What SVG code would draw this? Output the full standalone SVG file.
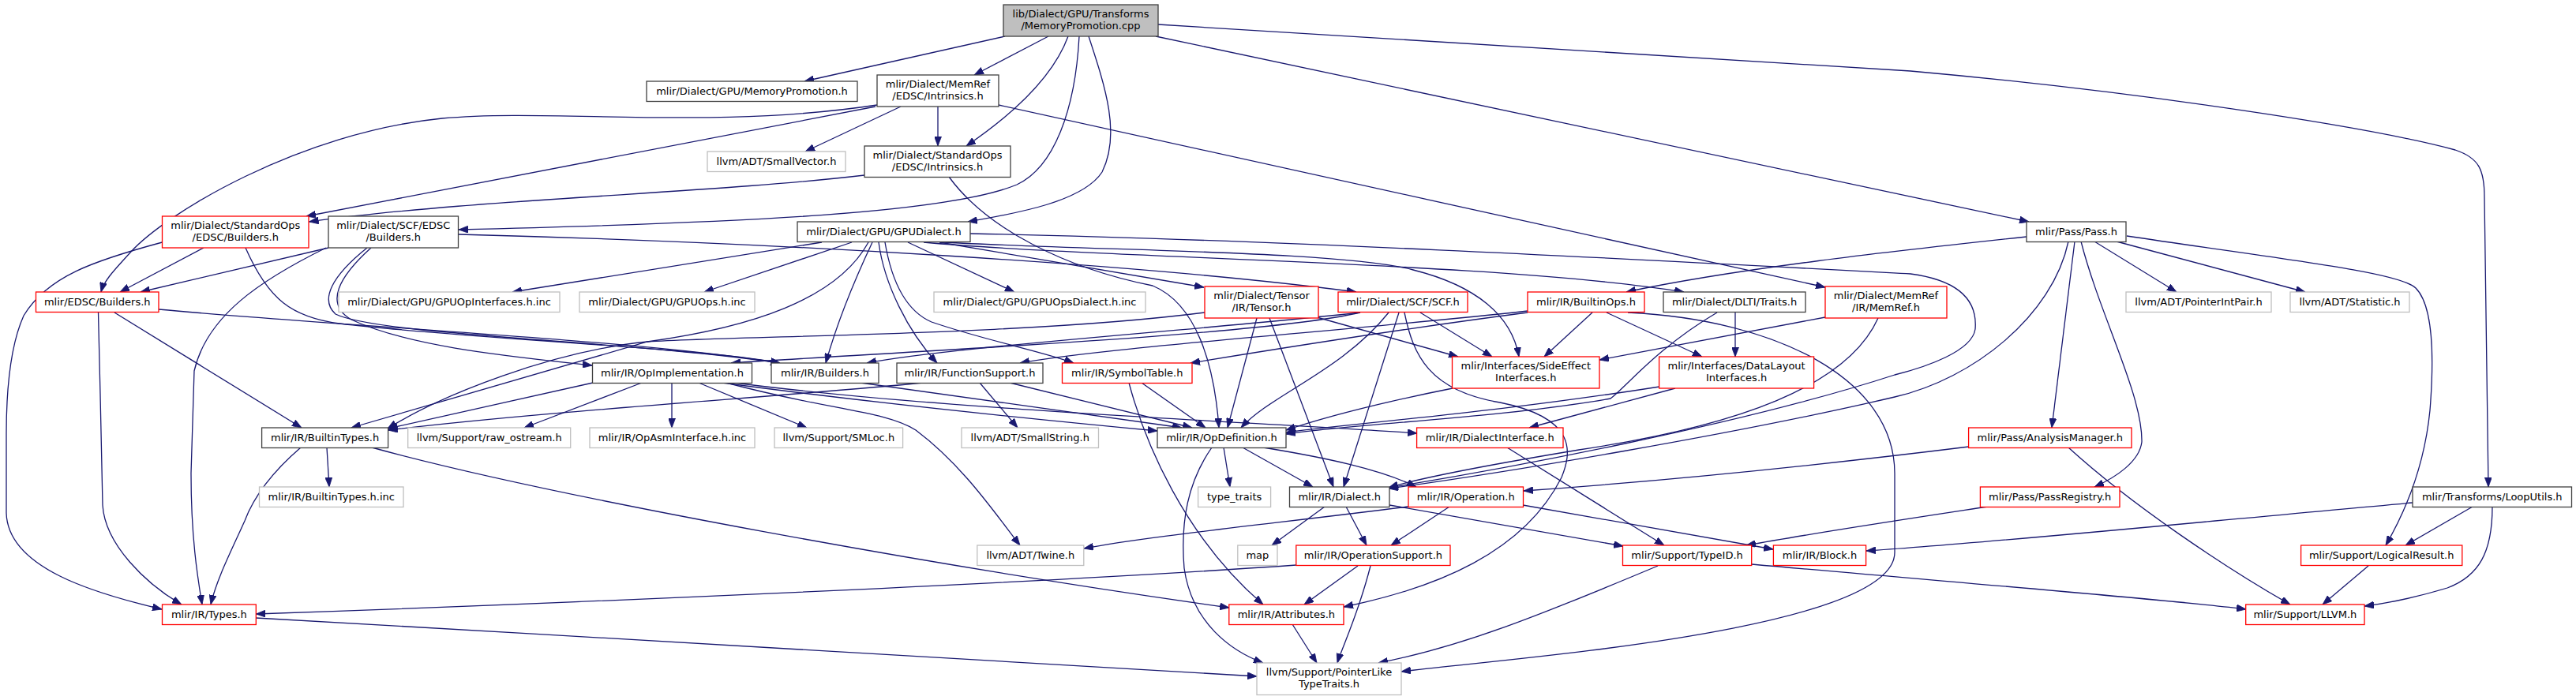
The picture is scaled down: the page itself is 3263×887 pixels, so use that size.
<svg xmlns="http://www.w3.org/2000/svg" width="3263" height="887" viewBox="0 0 3263 887">
<style>
.n rect{fill:#ffffff;stroke-width:1.3}
.k rect{stroke:#404040}
.r rect{stroke:#ff0000}
.g rect{stroke:#bfbfbf}
.m rect{fill:#bfbfbf;stroke:#404040}
text{font-family:"DejaVu Sans","Liberation Sans",sans-serif;font-size:13px;text-anchor:middle;fill:#000000}
#edges path{fill:none;stroke:#191970;stroke-width:1.3;marker-end:url(#a)}
</style>
<defs>
<marker id="a" viewBox="0 0 12 9" markerWidth="12" markerHeight="9" refX="12" refY="4.5" orient="auto" markerUnits="userSpaceOnUse"><path d="M0,0L12,4.5L0,9z" fill="#191970" stroke="#191970" stroke-width="0.8"/></marker>
</defs>
<rect x="0" y="0" width="3263" height="887" fill="#ffffff"/>
<g id="edges">
<path d="M1273,46 L1019,103"/>
<path d="M1328,46 L1234,95"/>
<path d="M1353,46 C1335,95 1290,140 1224,185"/>
<path d="M1367,46 C1362,140 1335,212 1288,234 C1200,270 950,282 581,291"/>
<path d="M1379,46 C1400,110 1420,170 1396,218 C1372,255 1290,270 1226,281"/>
<path d="M1464,46 L2570,281"/>
<path d="M1467,31 L2420,90 C2700,115 3000,160 3110,190 C3140,200 3147,215 3147,250 L3152,617"/>
<path d="M1111,133 C900,165 700,137 560,150 C380,168 210,270 165,320 C145,342 132,355 128,370"/>
<path d="M1109,135 L388,274"/>
<path d="M1141,135 L1020,192"/>
<path d="M1188,135 L1188,185"/>
<path d="M1265,133 L2312,364"/>
<path d="M1095,222 C900,245 600,252 391.5,281"/>
<path d="M1202,224 C1250,290 1350,340 1460,362 C1515,385 1538,460 1544,542"/>
<path d="M258,314 L152,370"/>
<path d="M205.5,307 C120,330 60,350 30,400 C12,440 8,500 8,550 L8,650 C10,720 120,752 205,772"/>
<path d="M311,314 C340,380 370,402 430,410 C600,430 880,440 988,460"/>
<path d="M416,314 L178,370"/>
<path d="M413,314 C330,355 262,400 246,470 L242,600 C242,680 250,730 256,766"/>
<path d="M465,314 C420,350 405,380 425,398 C480,425 800,432 988,460"/>
<path d="M470,314 C430,350 410,385 445,405 C520,440 650,452 750,463"/>
<path d="M581,297 C1000,308 1450,335 1718,370"/>
<path d="M1041,307 L649,370"/>
<path d="M1079,307 L892,370"/>
<path d="M1150,307 L1285,370"/>
<path d="M1190,307 L1525,364"/>
<path d="M1100,307 C1060,380 950,415 820,433 L445,542"/>
<path d="M1105,307 C1080,360 1060,410 1046,460"/>
<path d="M1113,307 C1120,360 1150,420 1187,460"/>
<path d="M1121,307 C1130,360 1150,395 1180,408 C1250,432 1320,445 1360,460"/>
<path d="M1195,307 C1400,318 1700,318 1790,342 C1870,362 1915,400 1924,452"/>
<path d="M1170,307 C1400,328 1900,332 2133,370"/>
<path d="M1229,296 C1600,303 2100,330 2420,347 C2480,355 2505,380 2502,417 C2498,445 2440,465 2400,475 C2200,540 1900,595 1759,618"/>
<path d="M2567,300 C2400,318 2200,340 2060,370"/>
<path d="M2653,306 L2757,370"/>
<path d="M2681,306 L2920,370"/>
<path d="M2628,306 L2599,542"/>
<path d="M2636,306 C2660,400 2714,500 2713,560 C2710,585 2680,605 2653,617"/>
<path d="M2694,299 C2900,330 3040,345 3060,365 C3085,390 3082,470 3078,520 C3070,600 3040,660 3022,691"/>
<path d="M2620,306 C2600,400 2500,480 2400,503 C2200,550 1900,600 1759,619"/>
<path d="M124.5,396 L127,500 L130,640 C133,690 185,740 230,766"/>
<path d="M145,396 L382,542"/>
<path d="M201,392 C450,415 800,430 988,460"/>
<path d="M1526,396 C1300,425 950,425 820,433 C700,445 560,500 491,543"/>
<path d="M1592,403 L1555,542"/>
<path d="M1608,403 L1689,617"/>
<path d="M1668,402 L1847,452"/>
<path d="M1723,396 C1500,420 1200,440 1098,460"/>
<path d="M1723,396 C1600,425 1150,445 926,460"/>
<path d="M1799,396 L1890,452"/>
<path d="M1772,396 L1702,617"/>
<path d="M1759,396 C1700,470 1610,500 1572,542"/>
<path d="M1779,396 C1790,450 1810,495 1900,510 C2000,530 1990,575 1978,605 C1930,700 1820,745 1702,769"/>
<path d="M2017,396 L1956,452"/>
<path d="M2035,396 L2156,452"/>
<path d="M1935,394 C1700,420 1400,440 1292,460"/>
<path d="M1935,396 C1750,420 1600,445 1508,460"/>
<path d="M2062,396 C2250,405 2400,480 2400,600 L2400,700 C2400,800 1900,835 1775,851"/>
<path d="M2198,396 L2198,452"/>
<path d="M2175,396 C2100,440 2060,490 2040,505 C1900,530 1700,538 1629,550"/>
<path d="M2312,402 L2026,456"/>
<path d="M2379,403 C2340,490 2200,540 2000,570 C1880,590 1800,605 1759,618"/>
<path d="M751,485 L491.6,543"/>
<path d="M813,485 L664,542"/>
<path d="M851,485 L851,542"/>
<path d="M885,485 L1022,542"/>
<path d="M915,485 C1100,510 1350,535 1466,546"/>
<path d="M930,485 C1200,520 1600,535 1795,549"/>
<path d="M920,485 C1050,520 1120,520 1160,545 C1220,590 1260,650 1292,691"/>
<path d="M1090,485 L1497,542"/>
<path d="M1279,485 L1510,542"/>
<path d="M1241,485 L1289,542"/>
<path d="M1169,485 C1000,502 700,520 491.6,545"/>
<path d="M1446,485 L1527,542"/>
<path d="M1430,485 C1450,560 1500,680 1600,766"/>
<path d="M1840,492 C1750,510 1680,528 1629,545"/>
<path d="M2102,490 C1900,522 1700,538 1629,548"/>
<path d="M2122,492 L1937,542"/>
<path d="M414,567 L417,617"/>
<path d="M381,567 C345,598 322,628 310,660 C292,700 274,735 267,766"/>
<path d="M471,567 C700,630 1200,720 1557,770"/>
<path d="M1550,567 L1558,617"/>
<path d="M1574,567 L1663,617"/>
<path d="M1600,567 C1680,580 1750,595 1794,617"/>
<path d="M1535,567 C1505,610 1495,660 1500,720 C1510,790 1560,825 1600,840"/>
<path d="M1909,567 L2108,691"/>
<path d="M2494,566 C2300,590 2100,610 1930,622"/>
<path d="M2620,567 C2700,640 2820,720 2901,766"/>
<path d="M1678,642 L1611,691"/>
<path d="M1705,642 L1731,691"/>
<path d="M1760,640 L2056,692"/>
<path d="M1836,642 L1762,691"/>
<path d="M1929,640 L2246,696"/>
<path d="M1784,642 C1600,665 1450,680 1373,695"/>
<path d="M2518,642 C2400,660 2300,675 2212,691"/>
<path d="M3056,637 C2800,660 2500,690 2364,698"/>
<path d="M3132,642 L3047,691"/>
<path d="M3157,642 C3157,700 3140,730 3100,745 C3050,760 3020,765 2995,768"/>
<path d="M1642,716 C1300,740 700,765 324.3,778"/>
<path d="M1720,717 L1652,766"/>
<path d="M1736,717 C1720,780 1700,820 1694,840"/>
<path d="M2219,715 C2500,740 2750,760 2845,772"/>
<path d="M2100,717 C1950,780 1850,820 1746,840"/>
<path d="M3000,717 L2942,766"/>
<path d="M324,783 C800,810 1400,845 1592,857"/>
<path d="M1637,791 L1668,840"/>
</g>
<g id="n0" class="n m"><rect x="1271" y="6" width="196" height="40"/><text x="1369" y="21.7">lib/Dialect/GPU/Transforms</text><text x="1369" y="36.7">/MemoryPromotion.cpp</text></g>
<g id="n1" class="n k"><rect x="819" y="103" width="267" height="25.5"/><text x="952.5" y="120">mlir/Dialect/GPU/MemoryPromotion.h</text></g>
<g id="n2" class="n k"><rect x="1111" y="95" width="154" height="40"/><text x="1188" y="110.7">mlir/Dialect/MemRef</text><text x="1188" y="125.7">/EDSC/Intrinsics.h</text></g>
<g id="n3" class="n g"><rect x="896" y="192" width="175" height="25.5"/><text x="983.5" y="209">llvm/ADT/SmallVector.h</text></g>
<g id="n4" class="n k"><rect x="1095" y="185" width="185" height="39.5"/><text x="1187.5" y="200.7">mlir/Dialect/StandardOps</text><text x="1187.5" y="215.7">/EDSC/Intrinsics.h</text></g>
<g id="n5" class="n r"><rect x="205.5" y="274" width="185.5" height="40"/><text x="298.25" y="289.7">mlir/Dialect/StandardOps</text><text x="298.25" y="304.7">/EDSC/Builders.h</text></g>
<g id="n6" class="n k"><rect x="416" y="274" width="164.5" height="40"/><text x="498.25" y="289.7">mlir/Dialect/SCF/EDSC</text><text x="498.25" y="304.7">/Builders.h</text></g>
<g id="n7" class="n k"><rect x="1010" y="281" width="219" height="25.5"/><text x="1119.5" y="298">mlir/Dialect/GPU/GPUDialect.h</text></g>
<g id="n8" class="n k"><rect x="2567" y="281" width="126" height="25.5"/><text x="2630" y="298">mlir/Pass/Pass.h</text></g>
<g id="n9" class="n r"><rect x="45.5" y="370" width="155.5" height="25.5"/><text x="123.25" y="387">mlir/EDSC/Builders.h</text></g>
<g id="n10" class="n g"><rect x="429" y="370" width="280" height="25.5"/><text x="569" y="387">mlir/Dialect/GPU/GPUOpInterfaces.h.inc</text></g>
<g id="n11" class="n g"><rect x="734" y="370" width="222" height="25.5"/><text x="845" y="387">mlir/Dialect/GPU/GPUOps.h.inc</text></g>
<g id="n12" class="n g"><rect x="1183" y="370" width="268" height="25.5"/><text x="1317" y="387">mlir/Dialect/GPU/GPUOpsDialect.h.inc</text></g>
<g id="n13" class="n r"><rect x="1526" y="363" width="144" height="40"/><text x="1598" y="378.7">mlir/Dialect/Tensor</text><text x="1598" y="393.7">/IR/Tensor.h</text></g>
<g id="n14" class="n r"><rect x="1695" y="370" width="164" height="25.5"/><text x="1777" y="387">mlir/Dialect/SCF/SCF.h</text></g>
<g id="n15" class="n r"><rect x="1935" y="370" width="148" height="25.5"/><text x="2009" y="387">mlir/IR/BuiltinOps.h</text></g>
<g id="n16" class="n k"><rect x="2107" y="370" width="180" height="25.5"/><text x="2197" y="387">mlir/Dialect/DLTI/Traits.h</text></g>
<g id="n17" class="n r"><rect x="2312" y="363" width="154" height="40"/><text x="2389" y="378.7">mlir/Dialect/MemRef</text><text x="2389" y="393.7">/IR/MemRef.h</text></g>
<g id="n18" class="n g"><rect x="2693" y="370" width="184" height="25.5"/><text x="2785" y="387">llvm/ADT/PointerIntPair.h</text></g>
<g id="n19" class="n g"><rect x="2901" y="370" width="151" height="25.5"/><text x="2976.5" y="387">llvm/ADT/Statistic.h</text></g>
<g id="n20" class="n k"><rect x="750.5" y="460" width="202" height="25.5"/><text x="851.5" y="477">mlir/IR/OpImplementation.h</text></g>
<g id="n21" class="n k"><rect x="977" y="460" width="136" height="25.5"/><text x="1045" y="477">mlir/IR/Builders.h</text></g>
<g id="n22" class="n k"><rect x="1136" y="460" width="185" height="25.5"/><text x="1228.5" y="477">mlir/IR/FunctionSupport.h</text></g>
<g id="n23" class="n r"><rect x="1345.5" y="460" width="164.5" height="25.5"/><text x="1427.75" y="477">mlir/IR/SymbolTable.h</text></g>
<g id="n24" class="n r"><rect x="1839.5" y="452" width="186.5" height="40"/><text x="1932.75" y="467.7">mlir/Interfaces/SideEffect</text><text x="1932.75" y="482.7">Interfaces.h</text></g>
<g id="n25" class="n r"><rect x="2101.6" y="452" width="196" height="40"/><text x="2199.6" y="467.7">mlir/Interfaces/DataLayout</text><text x="2199.6" y="482.7">Interfaces.h</text></g>
<g id="n26" class="n k"><rect x="331.6" y="542" width="160" height="25.5"/><text x="411.6" y="559">mlir/IR/BuiltinTypes.h</text></g>
<g id="n27" class="n g"><rect x="516.7" y="542" width="206" height="25.5"/><text x="619.7" y="559">llvm/Support/raw_ostream.h</text></g>
<g id="n28" class="n g"><rect x="747" y="542" width="209" height="25.5"/><text x="851.5" y="559">mlir/IR/OpAsmInterface.h.inc</text></g>
<g id="n29" class="n g"><rect x="981" y="542" width="162.6" height="25.5"/><text x="1062.3" y="559">llvm/Support/SMLoc.h</text></g>
<g id="n30" class="n g"><rect x="1218" y="542" width="173.5" height="25.5"/><text x="1304.75" y="559">llvm/ADT/SmallString.h</text></g>
<g id="n31" class="n k"><rect x="1466" y="542" width="163" height="25.5"/><text x="1547.5" y="559">mlir/IR/OpDefinition.h</text></g>
<g id="n32" class="n r"><rect x="1794.6" y="542" width="185.4" height="25.5"/><text x="1887.3" y="559">mlir/IR/DialectInterface.h</text></g>
<g id="n33" class="n r"><rect x="2493.6" y="542" width="206.4" height="25.5"/><text x="2596.8" y="559">mlir/Pass/AnalysisManager.h</text></g>
<g id="n34" class="n g"><rect x="328.5" y="617" width="182.5" height="25.5"/><text x="419.75" y="634">mlir/IR/BuiltinTypes.h.inc</text></g>
<g id="n35" class="n g"><rect x="1517.6" y="617" width="92" height="25.5"/><text x="1563.6" y="634">type_traits</text></g>
<g id="n36" class="n k"><rect x="1633.5" y="617" width="126.5" height="25.5"/><text x="1696.75" y="634">mlir/IR/Dialect.h</text></g>
<g id="n37" class="n r"><rect x="1784" y="617" width="145.5" height="25.5"/><text x="1856.75" y="634">mlir/IR/Operation.h</text></g>
<g id="n38" class="n r"><rect x="2508.4" y="617" width="176.6" height="25.5"/><text x="2596.7" y="634">mlir/Pass/PassRegistry.h</text></g>
<g id="n39" class="n k"><rect x="3056" y="617" width="201.5" height="25.5"/><text x="3156.75" y="634">mlir/Transforms/LoopUtils.h</text></g>
<g id="n40" class="n g"><rect x="1237.8" y="691" width="135" height="25.5"/><text x="1305.3" y="708">llvm/ADT/Twine.h</text></g>
<g id="n41" class="n g"><rect x="1567.8" y="691" width="50.2" height="25.5"/><text x="1592.9" y="708">map</text></g>
<g id="n42" class="n r"><rect x="1641.8" y="691" width="195.2" height="25.5"/><text x="1739.4" y="708">mlir/IR/OperationSupport.h</text></g>
<g id="n43" class="n r"><rect x="2055.5" y="691" width="163.2" height="25.5"/><text x="2137.1" y="708">mlir/Support/TypeID.h</text></g>
<g id="n44" class="n r"><rect x="2246.4" y="691" width="117.2" height="25.5"/><text x="2305" y="708">mlir/IR/Block.h</text></g>
<g id="n45" class="n r"><rect x="2914.6" y="691" width="204.2" height="25.5"/><text x="3016.7" y="708">mlir/Support/LogicalResult.h</text></g>
<g id="n46" class="n r"><rect x="205.5" y="766" width="118.8" height="25.5"/><text x="264.9" y="783">mlir/IR/Types.h</text></g>
<g id="n47" class="n r"><rect x="1556.8" y="766" width="145.2" height="25.5"/><text x="1629.4" y="783">mlir/IR/Attributes.h</text></g>
<g id="n48" class="n r"><rect x="2844.7" y="766" width="150.3" height="25.5"/><text x="2919.85" y="783">mlir/Support/LLVM.h</text></g>
<g id="n49" class="n g"><rect x="1592" y="840" width="183" height="40.5"/><text x="1683.5" y="855.7">llvm/Support/PointerLike</text><text x="1683.5" y="870.7">TypeTraits.h</text></g>
</svg>
